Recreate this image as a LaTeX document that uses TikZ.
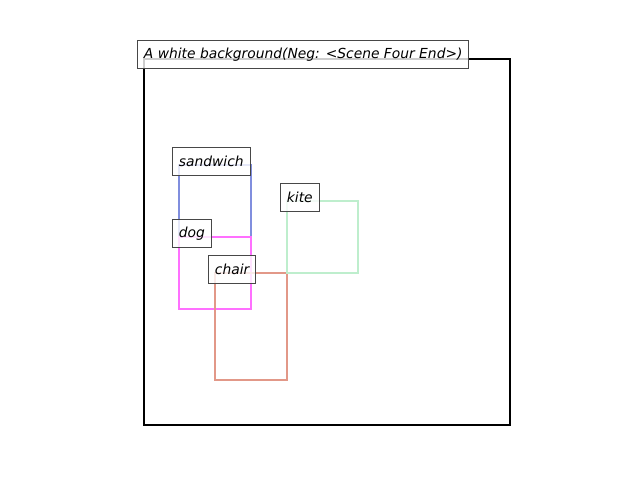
\documentclass[tikz,border=0pt]{standalone}
\usepackage{fontspec}
\setmainfont{DejaVu Sans}
\begin{document}
\begin{tikzpicture}[x=0.7227pt,y=-0.7227pt,
  objbox/.style={line width=1.8pt},
  tag/.style={draw=black!72, line width=0.8pt, fill=white, fill opacity=0.8, text opacity=1,
    anchor=north west, minimum height=20.2pt, inner xsep=4.6pt, inner ysep=0pt,
    font=\itshape\fontsize{10}{12}\selectfont, text=black}]
\definecolor{sandwichc}{RGB}{128,142,222}
\definecolor{dogc}{RGB}{255,112,255}
\definecolor{chairc}{RGB}{226,152,136}
\definecolor{kitec}{RGB}{190,238,205}
\useasboundingbox (0,0) rectangle (640,480);
% scene frame
\draw[line width=1.6pt] (144,59) rectangle (510,425);
% object boxes
\draw[objbox, draw=sandwichc] (179,165) rectangle (251,237);
\draw[objbox, draw=dogc] (179,237) rectangle (251,309);
\draw[objbox, draw=chairc] (215,273) rectangle (287,380);
\draw[objbox, draw=kitec] (287,201) rectangle (358,273);
% labels
\node[tag] (title) at (137,40) {A white background(Neg: <Scene Four End>)};
\node[tag] (sandwich) at (172,147) {sandwich};
\node[tag] (dog) at (172,219) {dog};
\node[tag] (chair) at (208,255) {chair};
\node[tag] (kite) at (280,183) {kite};
\end{tikzpicture}
\end{document}
